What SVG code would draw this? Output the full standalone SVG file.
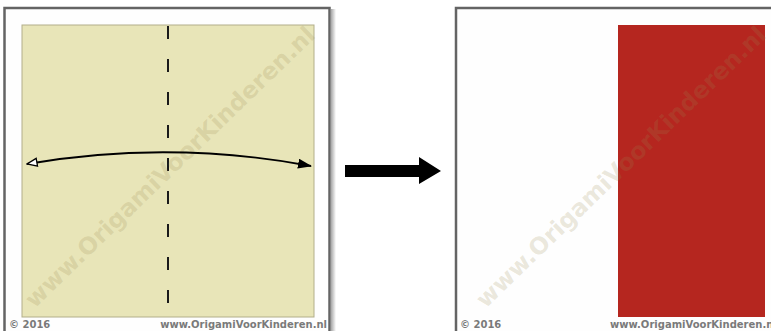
<svg xmlns="http://www.w3.org/2000/svg" width="771" height="331" viewBox="0 0 771 331">
<defs>
<style>
.frame{fill:#fefefe;stroke:#646464;stroke-width:2.5}
.foot{font-family:"DejaVu Sans",sans-serif;font-weight:bold;font-size:10px;fill:#7a7a7a}
.wm{font-family:"DejaVu Sans",sans-serif;font-weight:bold;font-size:23.5px;fill:#9a8a50;fill-opacity:0.2}
</style>
<linearGradient id="sh" x1="0" x2="1" y1="0" y2="0">
<stop offset="0" stop-color="#000" stop-opacity="0.35"/>
<stop offset="1" stop-color="#000" stop-opacity="0"/>
</linearGradient>
<marker id="hollow" viewBox="0 0 12 10" refX="11" refY="5" markerWidth="12" markerHeight="10" markerUnits="userSpaceOnUse" orient="auto-start-reverse">
<path d="M1,1 L11,5 L1,9 Z" fill="#fff" stroke="#000" stroke-width="1.3"/>
</marker>
<marker id="solid" viewBox="0 0 14 10" refX="13" refY="5" markerWidth="14" markerHeight="10" markerUnits="userSpaceOnUse" orient="auto">
<path d="M0,0 L14,5 L0,10 Z" fill="#000"/>
</marker>
</defs>
<rect width="771" height="331" fill="#fff"/>
<g id="panel-left">
<rect x="331" y="9" width="5" height="330" fill="url(#sh)"/>
<rect class="frame" x="4.5" y="8" width="325" height="330"/>
<rect x="22" y="25" width="292" height="292" fill="#e8e5b8" stroke="#b2ae8a" stroke-width="1"/>
<line x1="168" y1="26" x2="168" y2="317" stroke="#1a1a1a" stroke-width="2" stroke-dasharray="13 20"/>
<text class="wm" transform="translate(170,167) rotate(-44)" text-anchor="middle" dy="8">www.OrigamiVoorKinderen.nl</text>
<text class="foot" x="9" y="328">© 2016</text>
<text class="foot" x="327" y="328" text-anchor="end">www.OrigamiVoorKinderen.nl</text>
</g>
<g id="panel-right">
<rect class="frame" x="456" y="8" width="330" height="330"/>
<rect x="618" y="25" width="147" height="292" fill="#b5261f"/>
<text class="wm" transform="translate(621,167) rotate(-44)" text-anchor="middle" dy="8">www.OrigamiVoorKinderen.nl</text>
<text class="foot" x="460" y="328">© 2016</text>
<text class="foot" x="610" y="328">www.OrigamiVoorKinderen.nl</text>
</g>
<g id="connectors">
<path d="M27,164 Q168,139.5 311,166" fill="none" stroke="#000" stroke-width="1.8" marker-start="url(#hollow)" marker-end="url(#solid)"/>
<path d="M345,165 L419,165 L419,157 L441,171 L419,184 L419,177 L345,177 Z" fill="#000"/>
</g>
</svg>
